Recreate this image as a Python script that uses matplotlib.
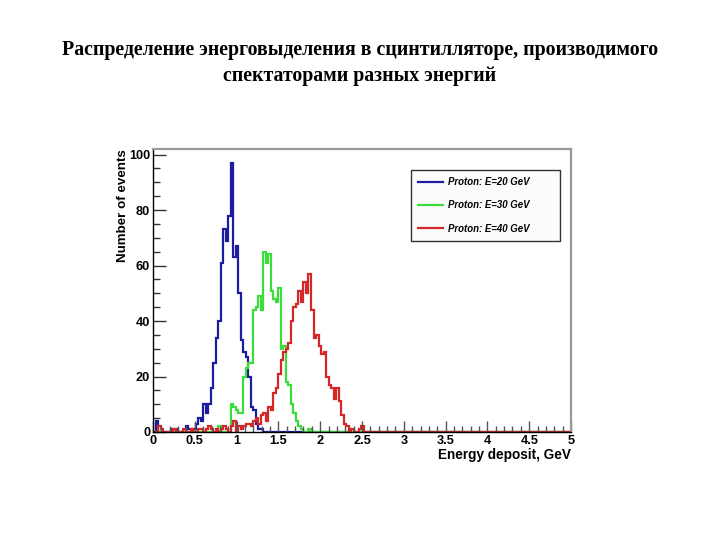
import numpy as np
import matplotlib
matplotlib.use("Agg")
import matplotlib.pyplot as plt

# ---- data (bin width 0.03 GeV, starting at 0) ----
bin_width = 0.03
blue_counts = [0, 4, 0, 0, 0, 0, 0, 1, 0, 1,
               0, 0, 0, 2, 1, 0, 1, 3, 5, 4,
               10, 7, 10, 16, 25, 34, 40, 61, 73, 69,
               78, 97, 63, 67, 50, 33, 29, 27, 20, 9,
               8, 3, 1, 1, 0]
green_counts = [0, 0, 0, 0, 0, 0, 0, 0, 0, 0,
                0, 0, 0, 0, 0, 0, 0, 0, 0, 0,
                0, 0, 0, 0, 0, 1, 2, 0, 0, 0,
                0, 10, 9, 8, 7, 7, 20, 23, 25, 25,
                44, 45, 49, 44, 65, 61, 64, 51, 48, 47,
                52, 30, 31, 18, 17, 10, 7, 4, 2, 1,
                0, 0, 1, 0]
red_counts = [0, 0, 2, 1, 0, 0, 0, 0, 1, 0,
              0, 0, 1, 0, 0, 1, 0, 0, 1, 1,
              0, 1, 2, 1, 0, 1, 0, 1, 2, 1,
              0, 2, 4, 0, 2, 1, 2, 3, 3, 2,
              4, 5, 3, 6, 7, 4, 9, 8, 14, 16,
              21, 26, 29, 30, 32, 40, 45, 46, 51, 47,
              54, 50, 57, 44, 34, 35, 31, 28, 29, 20,
              17, 16, 12, 16, 11, 6, 3, 2, 0, 1,
              0, 0, 1, 2, 0]
labels = ["Proton: E=20 GeV", "Proton: E=30 GeV", "Proton: E=40 GeV"]
colors = ["#1c1c9e", "#3cdc3c", "#d42828"]
title = ("Распределение энерговыделения в сцинтилляторе, производимого\n"
         "спектаторами разных энергий")
xlabel = "Energy deposit, GeV"
ylabel = "Number of events"

nbins = 168
edges = np.arange(nbins + 1) * bin_width


def pad(c):
    arr = np.zeros(nbins)
    arr[:len(c)] = c
    return arr


fig = plt.figure(figsize=(7.2, 5.4), dpi=100)
fig.patch.set_facecolor("white")
ax = fig.add_axes([153 / 720, 1 - 432 / 540, 418 / 720, 283 / 540])

for c, lab, col in zip([blue_counts, green_counts, red_counts], labels, colors):
    ax.stairs(pad(c), edges, baseline=0, color=col, lw=1.6, label=lab)

ax.set_xlim(0, 5)
ax.set_ylim(0, 102)

lab_font = dict(family="Liberation Sans", weight="bold", size=9.2)
ax.set_xticks(np.arange(0, 5.01, 0.5))
ax.set_xticks(np.arange(0, 5.01, 0.1), minor=True)
ax.set_yticks(np.arange(0, 101, 20))
ax.set_yticks(np.arange(0, 101, 5), minor=True)
ax.set_xticklabels(["0", "0.5", "1", "1.5", "2", "2.5", "3", "3.5", "4", "4.5", "5"], fontdict=lab_font)
ax.set_yticklabels(["0", "20", "40", "60", "80", "100"], fontdict=lab_font)
ax.tick_params(axis="x", which="major", direction="in", length=8, width=1, pad=2, color="#555555")
ax.tick_params(axis="x", which="minor", direction="in", length=4, width=1, color="#555555")
ax.tick_params(axis="y", which="major", direction="in", length=9, width=1, pad=2, color="#333333")
ax.tick_params(axis="y", which="minor", direction="in", length=5, width=1, color="#333333")

for s in ["left", "bottom"]:
    ax.spines[s].set_color("black")
    ax.spines[s].set_linewidth(1.0)
for s in ["top", "right"]:
    ax.spines[s].set_color("#9a9a9a")
    ax.spines[s].set_linewidth(1.6)

ax.set_xlabel(xlabel, fontdict=dict(family="Liberation Sans", weight="bold", size=9.8),
              loc="right", labelpad=1)
ax.set_ylabel(ylabel, fontdict=dict(family="Liberation Sans", weight="bold", size=9.6),
              loc="top", labelpad=0)

leg = ax.legend(loc="upper left", bbox_to_anchor=(0.617, 0.926, 0.357, 0.0), mode="expand",
                frameon=True, fancybox=False, framealpha=1, edgecolor="#333333",
                prop=dict(family="Liberation Sans", weight="bold", style="italic", size=6.9),
                handlelength=2.6, handletextpad=0.5, labelspacing=1.38, borderpad=0.75,
                borderaxespad=0)
leg.get_frame().set_linewidth(1.0)
leg.get_frame().set_facecolor("#fbfbfb")

fig.text(0.5, 1 - 40 / 540, title, ha="center", va="top",
         family="Liberation Serif", weight="bold", size=14.3, linespacing=1.42)

fig.savefig("out.png", dpi=100, facecolor="white")
